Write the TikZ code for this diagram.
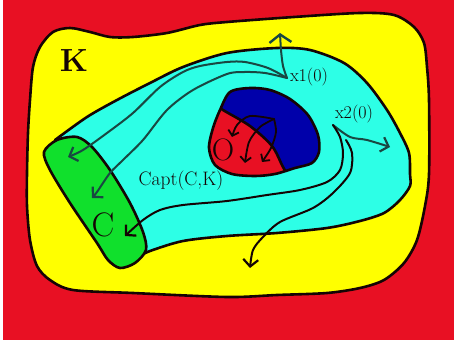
\documentclass[tikz,border=0pt]{standalone}
\usetikzlibrary{arrows.meta}
\definecolor{bgred}{RGB}{232,16,35}
\definecolor{yel}{RGB}{255,255,0}
\definecolor{cyn}{RGB}{45,255,230}
\definecolor{grn}{RGB}{16,224,44}
\definecolor{blu}{RGB}{0,0,170}
\definecolor{ink}{RGB}{20,4,4}
\definecolor{teal}{RGB}{25,72,66}
\tikzset{
  bnd/.style={draw=ink,line width=2.6pt,line join=round,line cap=round},
  traj/.style={draw=teal,line width=2pt,line cap=round,-{Straight Barb[length=7pt,width=15pt,line width=2.2pt]}},
  trajk/.style={draw=ink,line width=2pt,line cap=round,-{Straight Barb[length=7pt,width=15pt,line width=2.2pt]}},
  smallarr/.style={draw=ink,line width=1.8pt,line cap=round,-{Straight Barb[length=5pt,width=11pt,line width=1.8pt]}},
  lbl/.style={font=\fontsize{18}{18}\selectfont,text=ink,inner sep=0pt},
  big/.style={font=\fontsize{34}{34}\selectfont,text=ink,inner sep=0pt}
}
\begin{document}
\begin{tikzpicture}[x=1pt,y=-1pt]
\useasboundingbox (0,0) rectangle (454,347);
\fill[white] (0,0) rectangle (454,347);
\fill[bgred] (3,0) rectangle (454,340);
% yellow set K
\path[bnd,fill=yel] plot[smooth cycle] coordinates {(53,32)(70,28)(90,32)(110,37)(133,37)(167,33)(200,25)(227,22)(294,17)(360,13)(394,15)(414,27)(424,43)(427,67)(429,100)(429,174)(425,206)(417,240)(404,263)(384,280)(360,288)(327,293)(277,295)(227,297)(133,293)(73,290)(50,280)(37,266)(30,240)(27,206)(27,173)(28,133)(30,100)(33,67)(40,47)};
% cyan capture basin
\fill[cyn] plot[smooth] coordinates {(55,140)(87,117)(117,100)(150,83)(183,67)(227,53)(277,48)(310,50)(344,63)(367,83)(387,110)(400,133)(409,153)(410,174)(410,186)(400,200)(384,213)(360,221)(327,228)(277,233)(227,236)(183,241)(150,251)(138,257)} -- (96,200) -- cycle;
\draw[bnd] plot[smooth] coordinates {(55,140)(87,117)(117,100)(150,83)(183,67)(227,53)(277,48)(310,50)(344,63)(367,83)(387,110)(400,133)(409,153)(410,174)(410,186)(400,200)(384,213)(360,221)(327,228)(277,233)(227,236)(183,241)(150,251)(138,257)};
% green target C
\path[bnd,fill=grn] plot[smooth cycle] coordinates {(57,140)(77,137)(92,147)(110,170)(130,203)(143,232)(146,250)(135,263)(120,268)(108,260)(97,243)(70,203)(50,170)(44,152)};
% blob O
\fill[blu] plot[smooth cycle] coordinates {(230,92)(250,88)(270,90)(290,99)(308,115)(318,135)(319,152)(312,163)(295,168)(275,174)(255,176)(232,174)(215,165)(209,148)(213,128)(220,110)};
\begin{scope}
\clip plot[smooth cycle] coordinates {(230,92)(250,88)(270,90)(290,99)(308,115)(318,135)(319,152)(312,163)(295,168)(275,174)(255,176)(232,174)(215,165)(209,148)(213,128)(220,110)};
\fill[bgred] (195,95) -- plot[smooth] coordinates {(212,102)(223,110)(250,126)(272,146)(283,167)(292,182)} -- (195,190) -- cycle;
\draw[bnd] plot[smooth] coordinates {(212,102)(223,110)(250,126)(272,146)(283,167)(292,182)};
\end{scope}
\draw[bnd] plot[smooth cycle] coordinates {(230,92)(250,88)(270,90)(290,99)(308,115)(318,135)(319,152)(312,163)(295,168)(275,174)(255,176)(232,174)(215,165)(209,148)(213,128)(220,110)};
% trajectories from x1(0)
\draw[traj,-{Straight Barb[length=8pt,width=22pt,line width=2.4pt]}] plot[smooth] coordinates {(287,78)(283,66)(281,50)(280,33)};
\draw[traj] plot[smooth] coordinates {(287,78)(268,68)(245,62)(227,62)(200,66)(183,72)(160,87)(133,113)(107,133)(83,150)(68,157)};
\draw[traj] plot[smooth] coordinates {(287,78)(265,73)(245,72)(227,74)(193,90)(167,110)(143,140)(123,160)(110,173)(97,192)(92,198)};
% trajectories from x2(0)
\draw[traj] plot[smooth] coordinates {(333,125)(350,137)(367,140)(390,147)};
\draw[trajk] plot[smooth] coordinates {(333,125)(340,137)(343,153)(340,170)(327,182)(300,190)(267,195)(227,201)(183,205)(160,210)(143,220)(125,236)};
\draw[trajk] plot[smooth] coordinates {(346,140)(352,153)(350,173)(333,193)(313,208)(280,222)(263,237)(253,250)(250,268)};
% arrows inside O
\draw[smallarr] plot[smooth] coordinates {(274,119)(250,116)(237,125)(232,137)};
\draw[smallarr] plot[smooth] coordinates {(274,119)(260,127)(249,142)(245,163)};
\draw[smallarr] plot[smooth] coordinates {(274,119)(276,132)(271,148)(262,162)};
% labels
\node[big,font=\fontsize{32}{32}\selectfont\bfseries] (K) at (74,61) {K};
\node[big] (C) at (103,225) {C};
\node[big,font=\fontsize{31}{31}\selectfont] (O) at (223,150) {O};
\node[lbl] (x1) at (309,77) {x1(0)};
\node[lbl] (x2) at (354,114) {x2(0)};
\node[lbl,font=\fontsize{19.5}{19.5}\selectfont] (capt) at (181,181) {Capt(C,K)};
\end{tikzpicture}
\end{document}
